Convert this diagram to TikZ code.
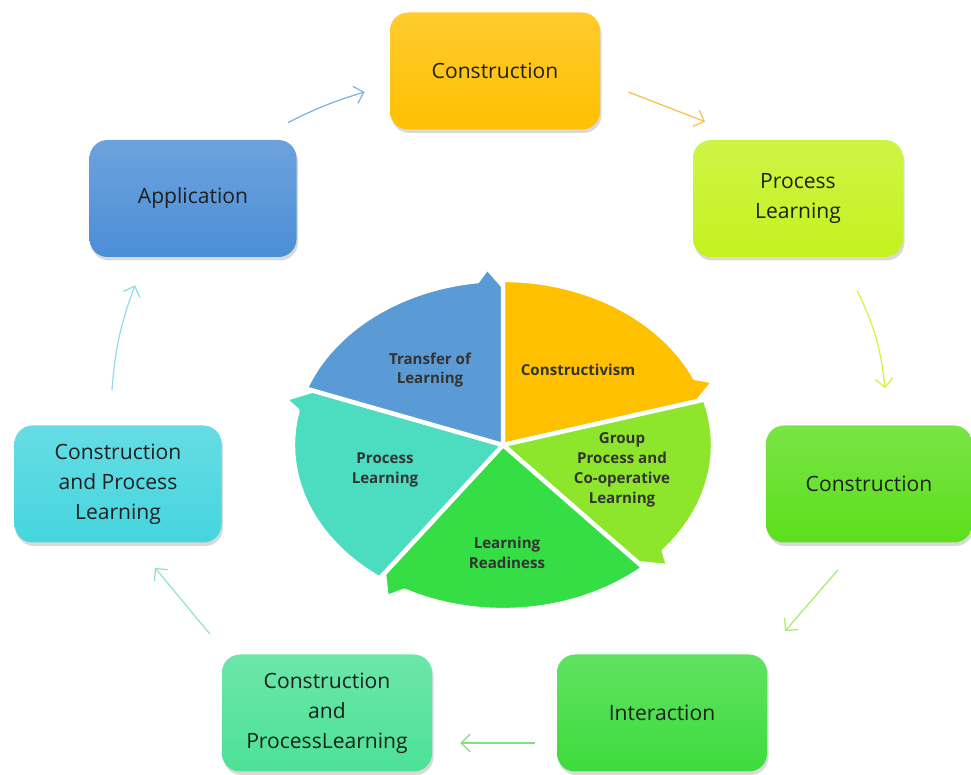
\documentclass[tikz,border=0pt]{standalone}
\usepackage{fontspec}
\setmainfont{Open Sans}
\usetikzlibrary{arrows.meta,shadows}

\definecolor{cOrange}{HTML}{FFC000}
\definecolor{cLime}{HTML}{C4F21E}
\definecolor{cGreenA}{HTML}{5CDF1C}
\definecolor{cGreenB}{HTML}{3DDC3D}
\definecolor{cTeal}{HTML}{4CE196}
\definecolor{cCyan}{HTML}{45D5DE}
\definecolor{cBlue}{HTML}{4C8ED6}
\definecolor{pLime}{HTML}{8EE62C}
\definecolor{pGreen}{HTML}{35DE45}
\definecolor{pTeal}{HTML}{4CDCC0}
\definecolor{pBlue}{HTML}{5B9BD5}
\definecolor{aOne}{HTML}{F7C04A}
\definecolor{aTwo}{HTML}{D8F040}
\definecolor{aThree}{HTML}{A6EC6A}
\definecolor{aFour}{HTML}{80E080}
\definecolor{aFive}{HTML}{90E6C0}
\definecolor{aSix}{HTML}{90DCEA}
\definecolor{aSeven}{HTML}{80B0E0}

\begin{document}
\begin{tikzpicture}[
  stage/.style={top color=#1!82!white, bottom color=#1, rounded corners=0.36cm,
    minimum width=4.2cm, minimum height=2.34cm, align=center, text=black!88,
    font=\fontsize{12}{17}\selectfont,
    drop shadow={opacity=0.3, shadow xshift=0.03cm, shadow yshift=-0.07cm}},
  link/.style={draw=#1, line width=0.7pt, -{Straight Barb[length=5pt,width=10pt]}},
  seg/.style={fill=#1, draw=white, line width=2.5pt, line join=round},
  segtext/.style={align=center, text=black!80, font=\fontsize{8.6}{11.3}\selectfont\bfseries}
]
\useasboundingbox (0,0) rectangle (19.42,15.5);

% outer cycle
\node [stage=cOrange] (constr1) at (9.9, 14.08) {Construction};
\node [stage=cLime] (proclearn) at (15.96, 11.53) {Process\\Learning};
\node [stage=cGreenA, minimum width=4.12cm] (constr2) at (17.38, 5.82) {Construction};
\node [stage=cGreenB] (interact) at (13.24, 1.24) {Interaction};
\node [stage=cTeal] (bothA) at (6.54, 1.24) {Construction\\and\\ProcessLearning};
\node [stage=cCyan, minimum width=4.14cm] (bothB) at (2.36, 5.82) {Construction\\and Process\\Learning};
\node [stage=cBlue, minimum width=4.14cm] (apply) at (3.86, 11.53) {Application};

\draw [link=aOne] ([shift={(0.56,-0.42)}]constr1.east) -- ([shift={(-1.86,0.36)}]proclearn.north);
\draw [link=aTwo] ([shift={(1.18,-0.66)}]proclearn.south) to [bend left=10] ([shift={(0.32,0.74)}]constr2.north);
\draw [link=aThree] ([shift={(-0.62,-0.54)}]constr2.south) -- ([shift={(2.46,0.46)}]interact.north);
\draw [link=aFour] ([shift={(-0.44,-0.6)}]interact.west) -- ([shift={(0.56,-0.6)}]bothA.east);
\draw [link=aFive] ([shift={(-2.34,0.4)}]bothA.north) -- ([shift={(0.74,-0.5)}]bothB.south);
\draw [link=aSix] ([shift={(-0.12,0.7)}]bothB.north) to [bend left=8] ([shift={(-1.16,-0.56)}]apply.south);
\draw [link=aSeven] ([shift={(-0.18,0.34)}]apply.north east) to [bend left=5] ([shift={(-0.5,-0.42)}]constr1.west);

% inner pie
\begin{scope}[shift={(10.06,6.6)}, yscale=0.786]
\filldraw [seg=cOrange] (0,0) -- (90:4.2) arc [start angle=90, end angle=24, radius=4.2] -- (21:4.52) -- (16:4.05) -- cycle;
\filldraw [seg=pLime] (0,0) -- (16:4.2) arc [start angle=16, end angle=-40, radius=4.2] -- (-43:4.52) -- (-48:4.05) -- cycle;
\filldraw [seg=pGreen] (0,0) -- (-48:4.2) arc [start angle=-48, end angle=-118, radius=4.2] -- (-121:4.52) -- (-126:4.05) -- cycle;
\filldraw [seg=pTeal] (0,0) -- (-126:4.2) arc [start angle=-126, end angle=-192, radius=4.2] -- (-195:4.52) -- (-200:4.05) -- cycle;
\filldraw [seg=pBlue] (0,0) -- (160:4.2) arc [start angle=160, end angle=97, radius=4.2] -- (94:4.52) -- (90:4.05) -- cycle;
\end{scope}

\node [segtext] (transfer) at (8.6, 8.1) {Transfer of\\Learning};
\node [segtext] (constrvism) at (11.56, 8.1) {Constructivism};
\node [segtext] (group) at (12.44, 6.1) {Group\\Process and\\Co-operative\\Learning};
\node [segtext] (ready) at (10.14, 4.44) {Learning\\Readiness};
\node [segtext] (procpie) at (7.7, 6.1) {Process\\Learning};

\end{tikzpicture}
\end{document}
